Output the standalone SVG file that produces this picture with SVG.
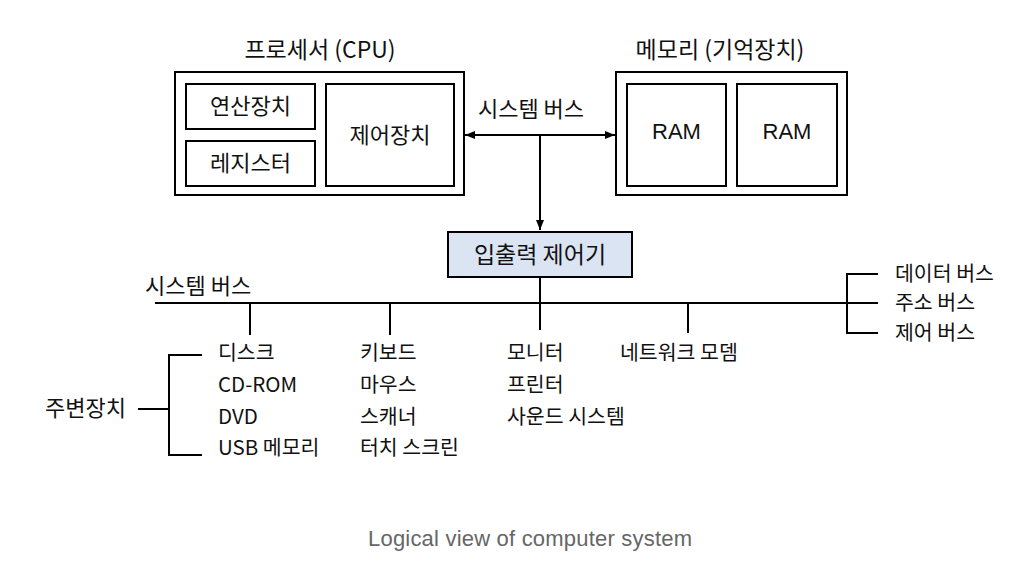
<svg xmlns="http://www.w3.org/2000/svg" width="1035" height="580" viewBox="0 0 1035 580">
<style>
.box{fill:#fff;stroke:#000;stroke-width:2}
.io{fill:#dbe4f3;stroke:#000;stroke-width:2}
.ln{fill:none;stroke:#000;stroke-width:2}
text{font-family:"Noto Sans CJK KR","Liberation Sans",sans-serif;fill:#111}
.t23{font-size:23px}
.t22{font-size:22px}
.t20{font-size:20.5px}
.lat{font-family:"Liberation Sans","Noto Sans CJK KR",sans-serif}
.cap{font-family:"Liberation Sans",sans-serif;font-size:22px;fill:#666}
</style>
<defs>
<marker id="ah" markerWidth="10" markerHeight="10" refX="10" refY="5" orient="auto-start-reverse" markerUnits="userSpaceOnUse">
<path d="M0,1 L10,5 L0,9 Z" fill="#000"/>
</marker>
</defs>
<rect width="1035" height="580" fill="#fff"/>
<g id="cpu">
<text class="t23" x="320" y="58" text-anchor="middle">프로세서 (CPU)</text>
<rect class="box" x="175" y="72" width="289" height="123"/>
</g>
<g id="alu">
<rect class="box" x="186" y="84" width="129" height="45"/>
<text class="t22" x="250.5" y="114" text-anchor="middle">연산장치</text>
</g>
<g id="register">
<rect class="box" x="186" y="141" width="129" height="45"/>
<text class="t22" x="250.5" y="171" text-anchor="middle">레지스터</text>
</g>
<g id="control">
<rect class="box" x="326" y="84" width="128" height="102"/>
<text class="t22" x="390" y="143" text-anchor="middle">제어장치</text>
</g>
<g id="memory">
<text class="t23" x="720" y="58" text-anchor="middle">메모리 (기억장치)</text>
<rect class="box" x="616" y="72" width="231" height="123"/>
</g>
<g id="ram1">
<rect class="box" x="627" y="84" width="99" height="102"/>
<text class="t22 lat" x="676.5" y="139" text-anchor="middle">RAM</text>
</g>
<g id="ram2">
<rect class="box" x="737" y="84" width="100" height="102"/>
<text class="t22 lat" x="787" y="139" text-anchor="middle">RAM</text>
</g>
<g id="io">
<rect class="io" x="448" y="232" width="184" height="45"/>
<text class="t23" x="540" y="263" text-anchor="middle">입출력 제어기</text>
</g>
<g id="connectors">
<line class="ln" x1="465" y1="135" x2="615" y2="135" marker-start="url(#ah)" marker-end="url(#ah)"/>
<line class="ln" x1="540" y1="135" x2="540" y2="230" marker-end="url(#ah)"/>
<line class="ln" x1="540" y1="277" x2="540" y2="330"/>
<line class="ln" x1="155" y1="303" x2="878" y2="303"/>
<line class="ln" x1="250" y1="303" x2="250" y2="335"/>
<line class="ln" x1="390" y1="303" x2="390" y2="335"/>
<line class="ln" x1="688" y1="303" x2="688" y2="333"/>
<path class="ln" d="M878,274 H847 V333 H878"/>
<path class="ln" d="M202,355 H169 V455 H202 M138,409 H169"/>
</g>
<g id="labels">
<text class="t22" x="531" y="117" text-anchor="middle">시스템 버스</text>
<text class="t22" x="145" y="294">시스템 버스</text>
<text class="t20" x="895" y="281">데이터 버스</text>
<text class="t20" x="895" y="310">주소 버스</text>
<text class="t20" x="895" y="340">제어 버스</text>
<text class="t22" x="45" y="416">주변장치</text>
</g>
<g id="storage">
<text class="t20" x="218" y="360">디스크</text>
<text class="t20" x="218" y="392">CD-ROM</text>
<text class="t20" x="218" y="424">DVD</text>
<text class="t20" x="218" y="455">USB 메모리</text>
</g>
<g id="input">
<text class="t20" x="360" y="360">키보드</text>
<text class="t20" x="360" y="392">마우스</text>
<text class="t20" x="360" y="424">스캐너</text>
<text class="t20" x="360" y="455">터치 스크린</text>
</g>
<g id="output">
<text class="t20" x="507" y="360">모니터</text>
<text class="t20" x="507" y="392">프린터</text>
<text class="t20" x="507" y="424">사운드 시스템</text>
</g>
<g id="network">
<text class="t20" x="620" y="360">네트워크 모뎀</text>
</g>
<text class="cap" x="368" y="546" textLength="324" lengthAdjust="spacing">Logical view of computer system</text>
</svg>
